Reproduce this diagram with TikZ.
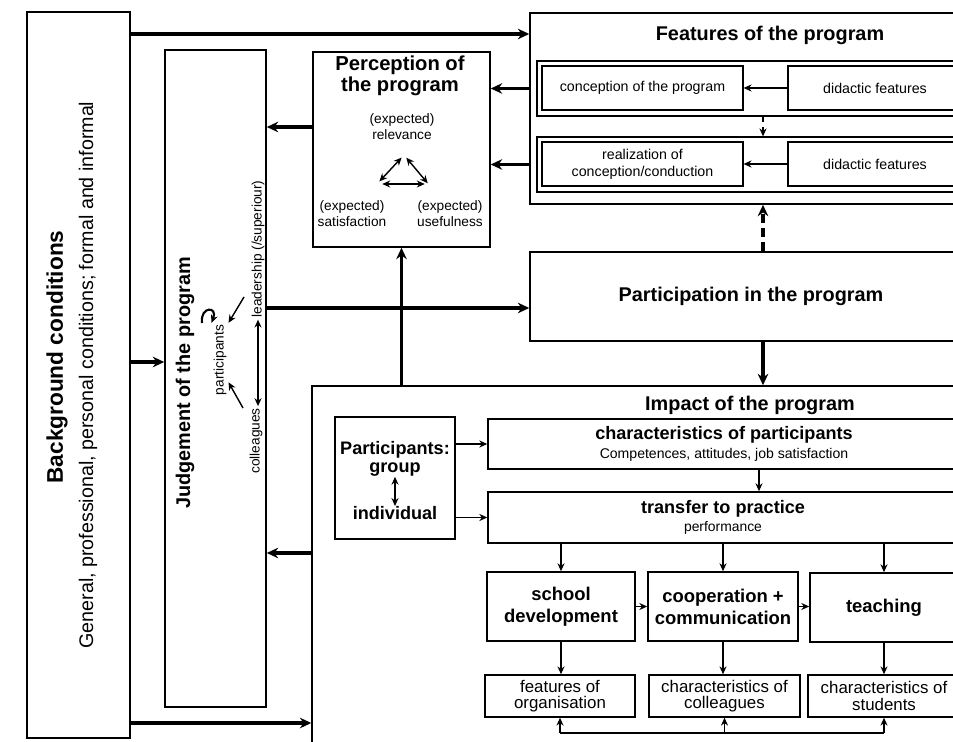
\documentclass[tikz,border=0pt]{standalone}
\usepackage{fontspec}
\setmainfont{Liberation Sans}
\usetikzlibrary{arrows.meta,calc}

\begin{document}
\begin{tikzpicture}[x=0.02cm, y=-0.02cm,
    box/.style={draw, line width=0.9pt, align=center, inner sep=1pt},
    innerbox/.style={draw, line width=0.7pt, align=center, inner sep=1pt, font=\fontsize{8.1}{9.6}\selectfont},
    midbox/.style={draw, line width=0.9pt, align=center, inner sep=1pt, font=\bfseries\fontsize{10.5}{12.5}\selectfont},
    lowbox/.style={draw, line width=0.8pt, align=center, inner sep=1pt, font=\fontsize{9.6}{9.4}\selectfont},
    title/.style={font=\bfseries\fontsize{11.3}{10}\selectfont, align=center},
    smalltext/.style={font=\fontsize{7.8}{9.2}\selectfont, align=center, inner sep=1pt},
    arrow/.style={->, >={Stealth[length=6.5pt,width=6pt]}, line width=1.8pt},
    thinarrow/.style={->, >={Stealth[length=4.5pt,width=4pt]}, line width=0.8pt}
]
    \path[use as bounding box, clip] (0,0) rectangle (953,742);

    % Helper lines for the long connectors
    \coordinate (ytop) at (0,34);
    \coordinate (yperc) at (0,127);
    \coordinate (yjudge) at (0,362);
    \coordinate (ypart) at (0,308);
    \coordinate (yimp) at (0,553);
    \coordinate (ybot) at (0,723);
    \coordinate (yloop) at (0,733);
    \coordinate (xf) at (763,0);
    \coordinate (xt) at (759,0);

    % Background conditions
    \node[box, minimum width=2.06cm, minimum height=14.52cm] (bg) at (78.5,375) {};
    \node[title, rotate=90, font=\bfseries\fontsize{12.9}{14}\selectfont] (bgtitle) at (57,357) {Background conditions};
    \node[rotate=90, font=\fontsize{11.2}{13}\selectfont] (bgtext) at (88,375) {General, professional, personal conditions; formal and informal};

    % Judgement of the program
    \node[box, minimum width=2.02cm, minimum height=13.14cm] (judge) at (215.5,378.5) {};
    \node[title, rotate=90] (judgetitle) at (185,383) {Judgement of the program};
    \node[smalltext, rotate=90] (ptc) at (220,360) {participants};
    \node[smalltext, rotate=90] (lead) at (258,249) {leadership (/superiour)};
    \node[smalltext, rotate=90] (coll) at (256,441) {colleagues};
    \coordinate (lfrom) at (244,297);
    \coordinate (cfrom) at (243,408);
    \coordinate (curlfrom) at (202,323);
    \draw[thinarrow] (lfrom) -- (ptc.south east);
    \draw[thinarrow] (cfrom) -- ($(ptc.south west)!0.2!(ptc.south east)$);
    \draw[thinarrow, <->] (lead.west) -- (lead.west |- coll.east);
    \draw[thinarrow, line width=1.2pt] (curlfrom) .. controls (200,306) and (218,306) .. (ptc.north east);

    % Perception of the program
    \node[box, minimum width=3.54cm, minimum height=3.9cm] (perc) at (401.5,149.5) {};
    \node[title, font=\bfseries\fontsize{11.5}{9.8}\selectfont] (perctitle) at (400,76) {Perception of\\the program};
    \node[smalltext] (rel) at (402,127) {(expected)\\relevance};
    \node[smalltext] (sat) at (352,214) {(expected)\\satisfaction};
    \node[smalltext] (use) at (450,214) {(expected)\\usefulness};
    \coordinate (ta) at (404,155);
    \coordinate (tb) at (377,184);
    \coordinate (tc) at (430,186);
    \draw[thinarrow, <->, shorten <=2pt, shorten >=2pt] (ta) -- (tb);
    \draw[thinarrow, <->, shorten <=2pt, shorten >=2pt] (ta) -- (tc);
    \draw[thinarrow, <->, shorten <=3pt, shorten >=3pt] (tb) -- (tb -| tc);

    % Features of the program
    \node[box, minimum width=9.6cm, minimum height=3.82cm] (feat) at (770,108.5) {};
    \node[title] (feattitle) at (770,35) {Features of the program};
    \node[box, line width=0.7pt, minimum width=8.62cm, minimum height=1.1cm] (row1) at (752.5,88.5) {};
    \node[innerbox, minimum width=4.02cm, minimum height=0.88cm] (conc) at (642.5,88) {conception of the program};
    \node[innerbox, minimum width=3.48cm, minimum height=0.88cm] (did1) at (875,88) {didactic features};
    \node[box, line width=0.7pt, minimum width=8.62cm, minimum height=1.1cm] (row2) at (752.5,164.5) {};
    \node[innerbox, minimum width=4.02cm, minimum height=0.88cm] (real) at (642.5,164) {realization of\\conception/conduction};
    \node[innerbox, minimum width=3.48cm, minimum height=0.88cm] (did2) at (875,164) {didactic features};
    \draw[thinarrow] (did1) -- (conc);
    \draw[thinarrow] (did2) -- (real);
    \draw[thinarrow, dashed] (row1.south -| xf) -- (row2.north -| xf);

    % Participation in the program
    \node[box, title, minimum width=8.84cm, minimum height=1.78cm] (part) at (751,296.5) {Participation in the program};

    % Impact of the program
    \node[box, minimum width=17.52cm, minimum height=7.68cm] (impact) at (750,578) {};
    \node[title] (imptitle) at (750,405) {Impact of the program};
    \node[box, minimum width=2.4cm, minimum height=2.44cm] (pbox) at (395,478) {};
    \node[font=\bfseries\fontsize{10.3}{10.2}\selectfont, align=center, inner sep=0pt] (pgroup) at (395,459) {Participants:\\group};
    \node[font=\bfseries\fontsize{10.3}{10.2}\selectfont, inner sep=0pt] (pind) at (395,513) {individual};
    \draw[thinarrow, <->, line width=1pt] (pgroup.south) -- (pind.north);

    \node[box, minimum width=9.44cm, minimum height=1cm, font=\fontsize{10.3}{10.8}\selectfont] (charp) at (724,444)
        {\textbf{characteristics of participants}\\{\fontsize{8}{10.8}\selectfont Competences, attitudes, job satisfaction}};
    \node[box, minimum width=9.4cm, minimum height=1.02cm, font=\fontsize{10.3}{10.2}\selectfont] (transfer) at (723,517.5)
        {\textbf{transfer to practice}\\{\fontsize{7.9}{10.2}\selectfont performance}};

    \node[midbox, minimum width=2.96cm, minimum height=1.38cm] (school) at (561,606.5) {school\\development};
    \node[midbox, minimum width=3cm, minimum height=1.38cm] (coop) at (723,606.5) {cooperation +\\communication};
    \node[midbox, minimum width=2.96cm, minimum height=1.38cm] (teach) at (884,607.5) {teaching};

    \node[lowbox, minimum width=3cm, minimum height=0.84cm] (orga) at (560,696) {features of\\organisation};
    \node[lowbox, minimum width=3.02cm, minimum height=0.84cm] (colle) at (724.5,696) {characteristics of\\colleagues};
    \node[lowbox, minimum width=3.04cm, minimum height=0.84cm] (stud) at (884,696) {characteristics of\\students};

    % Arrows inside the impact box
    \draw[thinarrow] (pbox.east |- charp) -- (charp.west);
    \draw[thinarrow] (pbox.east |- transfer) -- (transfer.west);
    \draw[thinarrow] (charp.south -| xt) -- (transfer.north -| xt);
    \draw[thinarrow] (transfer.south -| school) -- (school.north);
    \draw[thinarrow] (transfer.south -| coop) -- (coop.north);
    \draw[thinarrow] (transfer.south -| teach) -- (teach.north);
    \draw[thinarrow] (school.east) -- (coop.west |- school.east);
    \draw[thinarrow] (coop.east) -- (teach.west |- coop.east);
    \draw[thinarrow] (school.south) -- (school.south |- orga.north);
    \draw[thinarrow] (coop.south) -- (coop.south |- colle.north);
    \draw[thinarrow] (teach.south) -- (teach.south |- stud.north);
    \draw[line width=0.8pt] (orga.south |- yloop) -- (stud.south |- yloop);
    \draw[thinarrow] (orga.south |- yloop) -- (orga.south);
    \draw[thinarrow] (colle.south |- yloop) -- (colle.south);
    \draw[thinarrow] (stud.south |- yloop) -- (stud.south);

    % Main arrows
    \draw[arrow] (bg.east |- ytop) -- (feat.west |- ytop);
    \draw[arrow] (bg.east |- yjudge) -- (judge.west |- yjudge);
    \draw[arrow] (bg.east |- ybot) -- (impact.west |- ybot);
    \draw[arrow] (feat.west |- row1) -- (perc.east |- row1);
    \draw[arrow] (feat.west |- row2) -- (perc.east |- row2);
    \draw[arrow] (perc.west |- yperc) -- (judge.east |- yperc);
    \draw[arrow] (judge.east |- ypart) -- (part.west |- ypart);
    \draw[arrow] (impact.north -| perc) -- (perc.south);
    \draw[arrow] (impact.west |- yimp) -- (judge.east |- yimp);
    \draw[arrow] (part.south -| xf) -- (impact.north -| xf);
    \draw[arrow, dash pattern=on 5pt off 3pt] (part.north -| xf) -- (feat.south -| xf);
\end{tikzpicture}
\end{document}
